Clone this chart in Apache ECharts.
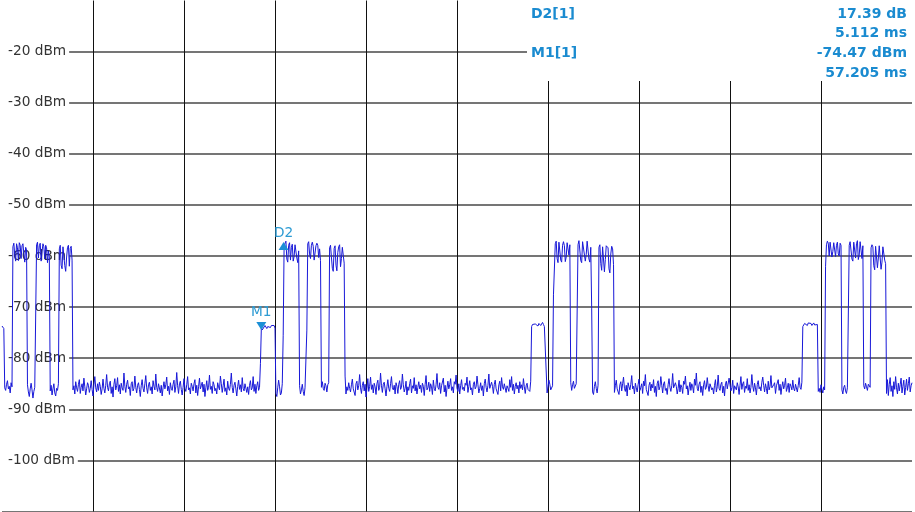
<!DOCTYPE html>
<html>
<head>
<meta charset="utf-8">
<script src="https://cdn.jsdelivr.net/npm/echarts@6/dist/echarts.min.js"></script>
<style>
  html, body { margin: 0; padding: 0; background: #ffffff; }
  #chart { width: 915px; height: 512px; }
</style>
</head>
<body>
<div id="chart"></div>
<script>
// ---- Sweep sampling (zero span, 200 ms sweep, 0.2 ms per sample) ----
const sweepStartMs = 0;
const sampleStepMs = 0.2;

// ---- Trace levels in dBm, in sweep order ----
const burstGroup1 = [
  -73.7, -73.9, -74.2,
  -85.8, -86.3, -85.1, -84.4, -86.0, -85.5, -86.8, -84.8,
  -85.6,
  -58.2, -57.5, -59.8, -61.0, -57.6, -58.4, -60.9, -57.4, -57.9, -60.5, -58.0, -57.6, -59.5, -61.2, -58.3, -58.8,
  -85.2, -86.6, -87.5, -86.0, -84.9, -86.2, -87.8, -86.5, -85.7, -86.0,
  -57.8, -57.3, -60.4, -58.0, -57.5, -61.0, -59.2, -57.6, -58.2, -60.6, -57.9, -58.4, -61.3, -59.0, -60.2,
  -86.4, -85.3, -87.2, -86.0, -85.0, -86.8, -87.4, -85.9, -86.3, -85.0,
  -58.6, -57.9, -61.8, -62.5, -58.2, -58.0, -61.9, -63.0, -60.2, -58.3, -57.9, -62.0, -58.5, -58.1, -60.8
];
const noise1 = [
  -86.2, -85.4, -87.0, -84.6, -85.8, -86.5, -85.1, -84.2, -86.9, -85.7,
  -85.0, -86.4, -83.9, -85.6, -87.2, -86.0, -84.8, -85.3, -86.7, -85.9,
  -84.4, -86.1, -87.4, -85.2, -83.6, -85.8, -86.6, -85.0, -86.3, -84.7,
  -85.5, -87.1, -86.0, -84.1, -85.9, -86.8, -85.3, -83.2, -85.7, -86.4,
  -85.0, -84.5, -86.9, -85.6, -87.6, -85.1, -84.0, -86.2, -85.4, -83.8,
  -86.5, -85.2, -87.0, -84.9, -85.8, -86.3, -82.9, -85.5, -86.7, -85.1,
  -84.3, -86.0, -85.6, -87.3, -85.0, -84.6, -86.4, -85.9, -83.5, -85.7,
  -86.8, -85.3, -84.8, -86.1, -87.5, -85.4, -84.2, -85.9, -86.6, -85.0,
  -83.4, -85.8, -86.9, -85.2, -84.7, -86.3, -85.6, -87.0, -84.4, -85.5,
  -86.2, -83.1, -85.7, -86.5, -85.0, -84.9, -86.8, -85.3, -87.4, -85.8,
  -84.6, -86.0, -85.2, -83.7, -86.4, -85.5, -87.1, -84.8, -85.9, -86.3,
  -85.1, -84.3, -86.7, -85.6, -82.8, -85.4, -86.9, -85.0, -84.5, -86.1,
  -87.2, -85.7, -84.0, -85.9, -86.5, -85.2, -83.6, -86.2, -85.8, -87.0,
  -84.9, -85.5, -86.4, -85.0, -84.2, -86.8, -85.3, -87.3, -85.6, -83.9,
  -86.0, -85.4, -84.7, -86.6, -85.1, -87.5, -85.8, -84.4, -86.3, -85.7,
  -83.3, -86.1, -85.5, -86.9, -84.6, -85.2, -86.4, -85.9, -87.0, -84.8,
  -85.6, -86.2, -83.5, -85.0, -86.7, -85.4, -84.1, -86.5, -85.8, -87.2,
  -84.5, -85.9, -86.3, -85.1, -82.9, -85.7, -86.8, -85.3, -84.7, -86.0,
  -87.4, -85.5, -84.3, -86.1, -85.2, -86.6, -83.8, -85.9, -86.4, -85.0,
  -84.9, -86.7, -85.6, -87.1, -85.3, -84.4, -86.2, -85.8, -83.6, -86.5,
  -85.1, -86.9, -85.4, -84.6, -86.3, -85.7
];
const burstGroup2 = [
  -81.0,
  -74.0, -74.47, -74.3, -74.1, -73.6, -73.9, -74.2, -73.8, -73.5, -73.7, -74.0, -73.6, -73.4, -73.8, -73.6, -74.1,
  -86.9, -87.5, -85.8, -84.3, -85.6, -87.2, -86.8, -85.0,
  -75.5,
  -58.1, -57.5, -57.1, -60.6, -61.2, -57.9, -57.4, -60.8, -58.3, -57.7, -61.0, -60.1, -57.8, -58.0, -60.4, -61.3, -59.0,
  -85.4, -87.0, -86.2, -85.1, -86.5, -87.3, -85.8, -86.0,
  -74.5,
  -57.6, -57.2, -59.6, -60.5, -57.9, -57.3, -58.1, -60.8, -61.1, -58.0, -57.5, -57.9, -60.3, -58.6, -60.9,
  -85.7, -84.6, -85.9, -86.3, -84.9, -85.4, -86.6, -85.2, -84.8,
  -58.4, -57.9, -60.2, -62.4, -63.0, -58.5, -58.0, -61.8, -62.9, -59.3, -58.2, -57.8, -62.1, -60.5, -58.3, -58.6, -61.4
];
const noise2 = [
  -83.5, -87.0, -85.6, -86.3, -84.8, -85.9, -86.6, -85.2, -84.1, -86.0,
  -85.7, -87.3, -85.0, -84.5, -86.2, -85.4, -83.2, -85.8, -86.9, -85.3,
  -84.6, -86.4, -85.1, -87.6, -85.9, -84.0, -86.5, -85.5, -83.7, -86.1,
  -85.2, -86.8, -84.9, -85.6, -87.1, -85.0, -84.3, -86.3, -85.7, -82.9,
  -85.4, -86.7, -85.1, -84.7, -86.0, -87.4, -85.6, -84.2, -85.9, -86.5,
  -85.0, -83.6, -85.8, -86.2, -85.3, -87.0, -84.8, -85.5, -86.9, -85.1,
  -84.4, -86.1, -85.7, -83.1, -85.2, -86.6, -85.9, -84.5, -87.2, -85.6,
  -86.3, -85.0, -84.1, -86.8, -85.4, -85.9, -83.8, -86.4, -85.2, -87.0,
  -85.7, -84.6, -86.0, -85.3, -86.7, -84.9, -85.5, -87.3, -85.1, -83.4,
  -86.2, -85.8, -84.7, -86.5, -85.0, -85.6, -87.1, -84.3, -85.9, -86.4,
  -85.2, -83.0, -85.7, -86.1, -84.8, -86.9, -85.4, -85.1, -83.9, -86.6,
  -85.3, -87.5, -85.8, -84.5, -86.0, -85.2, -84.0, -86.3, -85.6, -86.8,
  -84.6, -85.1, -83.3, -85.9, -86.5, -85.0, -87.0, -85.4, -84.2, -86.1,
  -85.7, -86.4, -84.9, -85.3, -83.7, -86.7, -85.5, -84.4, -86.2, -85.8,
  -87.2, -85.1, -84.6, -86.0, -85.6, -83.5, -85.2, -86.8, -85.9, -84.8,
  -86.3, -85.4, -87.4, -85.0, -84.1, -85.7, -86.6, -85.3, -83.1, -85.9,
  -86.2, -84.7, -85.5, -86.9, -85.1, -84.3, -86.0, -85.8, -87.1, -85.2,
  -84.5, -86.4, -83.8, -85.6, -86.1, -85.0, -84.9, -86.7, -85.4, -85.9,
  -86.5, -84.2, -85.7, -83.6, -86.3, -85.1, -87.0, -85.5, -84.8, -86.0,
  -85.3, -86.8, -84.6, -85.9, -85.2, -86.2, -84.0, -85.6, -86.9, -85.4,
  -84.9, -86.1, -85.8, -86.5, -84.5
];
const burstGroup3 = [
  -73.8, -73.4, -73.2, -73.6, -73.3, -73.0, -73.5, -73.7, -73.2, -73.1, -73.6, -73.3, -73.0, -73.4, -73.8, -73.5, -73.7,
  -86.8, -85.6, -84.3, -85.1, -86.2, -86.0, -85.4,
  -67.6, -67.4,
  -57.6, -57.1, -60.5, -61.3, -57.3, -57.0, -60.8, -61.2, -57.9, -57.2, -58.0, -61.1, -60.2, -57.4, -57.6, -59.8, -57.8,
  -84.8, -86.3, -85.2, -84.5, -85.9, -86.1, -85.0, -84.7,
  -57.8, -57.0, -57.3, -60.9, -61.3, -57.2, -57.0, -57.5, -61.0, -59.7, -57.1, -57.4, -60.6, -61.2, -58.3,
  -70.2,
  -86.6, -87.1, -85.5, -84.6, -85.9, -86.8, -85.3,
  -58.3, -57.8, -61.5, -62.8, -58.2, -57.9, -63.1, -60.7, -58.0, -57.9, -58.4, -62.5, -63.3, -59.6, -58.1, -58.6, -61.7
];
const noise3 = [
  -86.7, -85.4, -84.3, -86.0, -85.7, -87.1, -85.2, -84.6, -86.4, -85.0,
  -83.7, -85.9, -86.5, -85.3, -87.4, -84.8, -85.6, -86.2, -85.1, -83.4,
  -86.0, -85.5, -87.0, -84.9, -85.8, -86.6, -85.2, -84.1, -86.3, -85.7,
  -85.0, -86.9, -84.5, -85.4, -83.2, -86.1, -85.9, -87.3, -85.3, -84.7,
  -86.4, -85.1, -85.8, -84.2, -86.7, -85.5, -87.5, -85.0, -84.4, -86.2,
  -85.6, -83.6, -85.3, -86.8, -85.0, -84.6, -86.3, -85.9, -87.1, -85.2,
  -84.0, -85.7, -86.5, -85.4, -83.0, -85.8, -86.1, -84.8, -85.5, -87.0,
  -85.9, -84.3, -86.6, -85.2, -85.7, -86.9, -84.5, -85.1, -83.5, -86.0,
  -85.4, -87.2, -85.8, -84.7, -86.3, -85.0, -85.6, -86.8, -84.1, -85.3,
  -82.9, -85.9, -86.4, -85.1, -84.6, -86.7, -85.5, -87.3, -85.2, -84.4,
  -86.1, -85.7, -83.8, -85.4, -86.5, -85.0, -84.9, -86.2, -85.8, -87.0,
  -85.3, -84.2, -86.6, -85.6, -83.3, -85.9, -86.3, -85.1, -84.7, -86.8,
  -85.5, -87.4, -85.0, -84.5, -86.0, -85.7, -83.9, -85.2, -86.4, -85.8,
  -84.3, -86.9, -85.4, -85.1, -86.2, -84.8, -85.6, -87.1, -85.3, -83.6,
  -86.1, -85.0, -84.6, -86.7, -85.5, -85.9, -84.0, -86.3, -85.2, -86.8,
  -85.7, -83.2, -85.4, -86.5, -84.9, -85.8, -87.2, -85.1, -84.4, -86.0,
  -85.6, -86.4, -84.7, -83.7, -85.3, -86.6, -85.0, -85.9, -87.0, -84.5,
  -86.2, -85.5, -83.4, -85.8, -86.1, -85.2, -84.8, -86.9, -85.4, -85.7,
  -84.2, -86.3, -85.1, -87.1, -85.6, -84.6, -86.0, -85.3, -83.9, -86.5,
  -85.8, -84.9, -86.7, -85.0, -85.5, -86.2, -84.3, -85.9, -86.4, -85.1,
  -84.8, -86.6, -85.3, -83.8, -85.7, -86.1, -84.7
];
const burstGroup4 = [
  -73.8, -73.5, -73.2, -73.0, -73.4, -73.6, -73.1, -73.3, -72.9, -73.2, -73.6, -73.4, -73.1, -73.5, -73.3, -73.7, -73.4,
  -86.5, -85.9, -86.7, -85.2, -86.1, -86.8, -85.6, -86.2,
  -62.0,
  -57.8, -57.1, -57.5, -60.0, -57.3, -57.0, -60.2, -59.1, -57.4, -57.2, -60.1, -57.9, -57.3, -59.6, -60.0, -57.5, -57.9,
  -86.2, -87.0, -85.7, -85.3, -86.4, -86.9, -85.8, -86.0,
  -57.9, -57.2, -57.0, -60.6, -61.0, -57.3, -57.1, -60.4, -57.6, -57.0, -60.7, -59.8, -57.2, -57.5, -60.5, -58.0,
  -85.4, -86.0, -84.9, -85.6, -86.3, -85.1, -84.8, -85.7,
  -58.4, -57.8, -58.2, -61.9, -62.7, -58.1, -57.9, -62.3, -60.4, -58.0, -58.3, -62.6, -61.2, -58.2, -57.9, -60.8, -61.5
];
const noise4 = [
  -86.9, -84.2, -87.3, -85.1, -83.8, -86.5, -85.4, -87.5, -84.6, -86.1,
  -83.6, -85.8, -87.0, -84.9, -86.4, -85.2, -83.9, -86.8, -85.5, -84.3,
  -87.2, -85.7, -84.1, -86.3, -85.0, -83.7, -86.6, -85.4, -84.8
];

// ---- Axis ticks ----
const timeAxisMs = { min: 0, max: 200, step: 20 };
const levelAxisDbm = { min: -110, max: -10, step: 10 };
const levelUnit = 'dBm';

// ---- Markers ----
const markerNames = ['M1', 'D2'];
const markerTimesMs = [57.205, 62.317];
const markerLevelsDbm = [-74.47, -57.08];

// ---- Marker readout ----
const readoutNames = ['D2[1]', 'M1[1]'];
const readoutValues = ['17.39 dB', '5.112 ms', '-74.47 dBm', '57.205 ms'];

// ---- Build trace ----
const levels = [].concat(burstGroup1, noise1, burstGroup2, noise2, burstGroup3, noise3, burstGroup4, noise4);
const traceData = levels.map((v, i) => [+(sweepStartMs + i * sampleStepMs).toFixed(3), v]);

const markerColor = '#1b8fd6';
const markerTextColor = '#2d9bd3';
const readoutColor = '#1a8bd0';
const labelFont = 'DejaVu Sans';

const markPointData = markerNames.map((name, k) => {
  const isDown = name.startsWith('M');
  return {
    name: name,
    coord: [markerTimesMs[k], markerLevelsDbm[k]],
    symbol: 'triangle',
    symbolSize: [10, 8],
    symbolRotate: isDown ? 180 : 0,
    symbolOffset: isDown ? [-1, -4] : [-2, 5],
    itemStyle: { color: markerColor },
    label: {
      show: true,
      formatter: name,
      position: 'top',
      distance: 2,
      color: markerTextColor,
      fontFamily: labelFont,
      fontSize: 13.7
    }
  };
});

const chart = echarts.init(document.getElementById('chart'), null, { renderer: 'canvas' });

const rightX = 907;
const option = {
  animation: false,
  backgroundColor: '#ffffff',
  grid: { left: 2, right: 3, top: 0.5, bottom: 0.5, containLabel: false, outerBoundsMode: 'none' },
  xAxis: {
    type: 'value',
    min: timeAxisMs.min, max: timeAxisMs.max, interval: timeAxisMs.step,
    axisLine: { show: false }, axisTick: { show: false }, axisLabel: { show: false },
    splitLine: { show: true, showMinLine: false, showMaxLine: false, lineStyle: { color: '#111111', width: 1 } }
  },
  yAxis: [
    {
      type: 'value', z: 0,
      min: levelAxisDbm.min, max: levelAxisDbm.max, interval: levelAxisDbm.step,
      axisLine: { show: false }, axisTick: { show: false }, axisLabel: { show: false },
      splitLine: { show: true, showMinLine: true, showMaxLine: false, lineStyle: { color: '#474747', width: 1.5 } }
    },
    {
      type: 'value', z: 1, position: 'left', offset: 0,
      min: levelAxisDbm.min, max: levelAxisDbm.max, interval: levelAxisDbm.step,
      axisLine: { show: false }, axisTick: { show: false }, splitLine: { show: false },
      axisLabel: {
        inside: true, margin: 0, showMinLabel: false, showMaxLabel: false,
        formatter: (v) => v + ' ' + levelUnit,
        color: '#333333', fontFamily: labelFont, fontSize: 13.7,
        backgroundColor: '#ffffff', padding: [1, 3, 1, 6]
      }
    }
  ],
  series: [{
    type: 'line',
    yAxisIndex: 0,
    data: traceData,
    showSymbol: false,
    silent: true,
    sampling: 'none',
    lineStyle: { color: '#1818d8', width: 1 },
    z: 2,
    markPoint: { silent: true, data: markPointData }
  }],
  graphic: [
    { type: 'rect', z: 10, shape: { x: 527, y: 0, width: 388, height: 81 }, style: { fill: '#ffffff' } },
    { type: 'text', z: 11, x: 531, y: 14, style: { text: readoutNames[0], fill: readoutColor, font: 'bold 14px "DejaVu Sans"', textAlign: 'left', textVerticalAlign: 'middle' } },
    { type: 'text', z: 11, x: 531, y: 53, style: { text: readoutNames[1], fill: readoutColor, font: 'bold 14px "DejaVu Sans"', textAlign: 'left', textVerticalAlign: 'middle' } },
    { type: 'text', z: 11, x: rightX, y: 14, style: { text: readoutValues[0], fill: readoutColor, font: 'bold 14px "DejaVu Sans"', textAlign: 'right', textVerticalAlign: 'middle' } },
    { type: 'text', z: 11, x: rightX, y: 33, style: { text: readoutValues[1], fill: readoutColor, font: 'bold 14px "DejaVu Sans"', textAlign: 'right', textVerticalAlign: 'middle' } },
    { type: 'text', z: 11, x: rightX, y: 53, style: { text: readoutValues[2], fill: readoutColor, font: 'bold 14px "DejaVu Sans"', textAlign: 'right', textVerticalAlign: 'middle' } },
    { type: 'text', z: 11, x: rightX, y: 73, style: { text: readoutValues[3], fill: readoutColor, font: 'bold 14px "DejaVu Sans"', textAlign: 'right', textVerticalAlign: 'middle' } }
  ]
};
chart.setOption(option);
</script>
</body>
</html>
